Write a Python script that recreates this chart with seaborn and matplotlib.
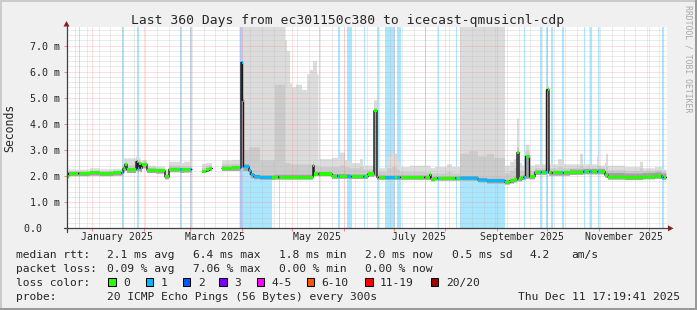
import numpy as np
import pandas as pd
import matplotlib
matplotlib.use("Agg")
import matplotlib.pyplot as plt
import seaborn as sns
from matplotlib.lines import Line2D
from matplotlib.patches import Rectangle, Polygon
from matplotlib.colors import to_rgb

# ---------------- data ----------------
START = pd.Timestamp("2024-12-16 17:19:41")
END = pd.Timestamp("2025-12-11 17:19:41")
SPAN_DAYS = 360

nan = np.nan
# step segments: start day (from START) and values held until next start
seg_day = [0.0, 1.2, 14.1, 20.1, 27.9, 33.9, 35.1, 36.3, 41.7, 42.6,
           43.5, 44.4, 45.3, 48.3, 53.7, 59.1, 61.5, 68.1, 70.5, 75.3,
           81.3, 83.7, 85.5, 87.3, 93.3, 99.3, 104.7, 105.6, 106.2, 109.5,
           110.7, 112.5, 116.1, 125.1, 131.1, 132.3, 134.1, 135.3, 137.7, 141.3,
           144.3, 146.1, 147.9, 148.5, 150.3, 151.2, 159.3, 164.1, 167.1, 170.1,
           176.1, 177.9, 180.9, 184.5, 186.3, 192.3, 195.3, 198.3, 200.1, 206.1,
           218.1, 218.7, 221.1, 228.3, 231.3, 236.1, 241.5, 246.9, 252.3, 256.5,
           263.1, 266.1, 268.5, 270.3, 271.5, 273.3, 275.4, 277.8, 281.1, 288.0,
           289.5, 294.9, 297.9, 302.1, 308.1, 309.9, 318.3, 319.5, 323.1, 323.7,
           324.9, 335.1, 344.1, 345.9, 353.1, 357.3]

median_ms = [2.00, 2.10, 2.12, 2.10, 2.12, 2.30, 2.45, 2.25, 2.55, 2.30,
             2.50, 2.30, 2.45, 2.23, 2.20, 1.97, 2.26, 2.24, 2.25, nan,
             2.18, 2.25, 2.30, nan, 2.30, 2.32, 6.35, 4.90, 2.36, 2.20,
             2.05, 1.97, 1.95, 1.96, 1.96, 1.96, 1.96, 1.96, 1.96, 1.96,
             1.96, 1.96, 2.40, 2.08, 2.08, 2.08, 2.00, 2.00, 2.00, 1.98,
             1.98, 1.98, 2.08, 4.50, 1.95, 1.95, 1.95, 1.95, 1.95, 1.95,
             2.05, 1.88, 1.92, 1.92, 1.92, 1.92, 1.92, 1.85, 1.82, 1.82,
             1.76, 1.82, 1.86, 2.90, 1.90, 1.95, 2.75, 1.98, 2.15, 5.30,
             2.12, 2.12, 2.12, 2.15, 2.15, 2.17, 2.17, 2.17, 2.04, 2.04,
             1.96, 1.94, 1.94, 1.97, 2.00, 1.95]

smoke_lo = [1.92, 2.00, 2.02, 2.00, 2.02, 2.14, 2.20, 2.12, 2.20, 2.15,
            2.20, 2.15, 2.30, 2.12, 2.10, 1.88, 2.15, 2.12, 2.14, nan,
            2.10, 2.15, 2.20, nan, 2.20, 2.20, 2.30, 2.30, 2.20, 2.05,
            1.92, 1.88, 1.86, 1.87, 1.87, 1.87, 1.87, 1.87, 1.87, 1.87,
            1.87, 1.87, 1.95, 2.00, 2.00, 2.00, 1.90, 1.90, 1.90, 1.89,
            1.89, 1.89, 1.98, 2.00, 1.86, 1.86, 1.86, 1.86, 1.86, 1.86,
            1.90, 1.80, 1.83, 1.83, 1.83, 1.83, 1.83, 1.76, 1.72, 1.72,
            1.68, 1.72, 1.76, 1.80, 1.80, 1.85, 1.90, 1.88, 2.05, 2.10,
            2.02, 2.02, 2.02, 2.05, 2.05, 2.07, 2.07, 2.07, 1.95, 1.95,
            1.87, 1.85, 1.85, 1.88, 1.90, 1.86]

smoke_core = [2.06, 2.15, 2.17, 2.15, 2.17, 2.36, 2.50, 2.31, 2.60, 2.36,
              2.55, 2.36, 2.50, 2.29, 2.26, 2.03, 2.32, 2.30, 2.31, nan,
              2.24, 2.31, 2.36, nan, 2.37, 2.39, 6.40, 4.95, 2.45, 2.28,
              2.12, 2.05, 2.03, 2.05, 2.05, 2.05, 2.05, 2.05, 2.05, 2.05,
              2.05, 2.05, 2.45, 2.15, 2.15, 2.15, 2.08, 2.08, 2.08, 2.06,
              2.06, 2.06, 2.15, 4.55, 2.02, 2.02, 2.02, 2.02, 2.02, 2.02,
              2.10, 1.95, 1.98, 1.98, 1.98, 2.00, 2.00, 1.93, 1.90, 1.90,
              1.85, 1.90, 1.94, 2.95, 1.97, 2.02, 2.80, 2.05, 2.22, 5.35,
              2.20, 2.20, 2.20, 2.25, 2.25, 2.27, 2.27, 2.27, 2.14, 2.14,
              2.12, 2.10, 2.10, 2.12, 2.14, 2.10]

smoke_mid = [2.09, 2.19, 2.21, 2.19, 2.21, 2.45, 2.55, 2.40, 2.65, 2.45,
             2.60, 2.42, 2.55, 2.33, 2.30, 2.10, 2.40, 2.38, 2.38, nan,
             2.30, 2.38, 2.42, nan, 2.45, 2.47, 7.71, 5.10, 3.00, 3.10,
             3.10, 3.10, 2.60, 5.50, 2.50, 2.50, 2.45, 2.45, 2.45, 2.45,
             2.45, 2.45, 2.55, 2.40, 2.40, 2.35, 2.35, 2.40, 2.35, 2.30,
             2.35, 2.25, 2.25, 4.60, 2.15, 2.30, 2.35, 2.25, 2.15, 2.15,
             2.20, 2.10, 2.10, 2.15, 2.10, 2.85, 2.95, 2.75, 2.85, 2.70,
             2.10, 2.20, 2.30, 3.10, 2.20, 2.20, 2.95, 2.20, 2.30, 5.40,
             2.30, 2.35, 2.30, 2.32, 2.40, 2.32, 2.40, 2.32, 2.25, 2.35,
             2.22, 2.20, 2.30, 2.20, 2.22, 2.18]

smoke_hi = [2.13, 2.25, 2.30, 2.26, 2.28, 2.68, 2.68, 2.68, 2.75, 2.65,
            2.70, 2.55, 2.62, 2.40, 2.36, 2.25, 2.55, 2.50, 2.55, nan,
            2.45, 2.50, 2.50, nan, 2.60, 2.62, 7.71, 7.71, 7.71, 7.71,
            7.71, 7.71, 7.71, 7.71, 7.20, 6.80, 5.55, 5.40, 5.50, 5.30,
            5.90, 6.07, 6.40, 6.40, 5.90, 2.65, 2.70, 2.90, 2.60, 2.50,
            2.65, 2.40, 2.40, 4.90, 2.30, 2.75, 2.87, 2.60, 2.35, 2.40,
            2.35, 2.30, 2.35, 2.45, 2.35, 7.71, 7.71, 7.71, 7.71, 7.71,
            2.40, 2.55, 2.65, 4.20, 2.50, 2.40, 3.20, 2.40, 2.45, 5.45,
            2.45, 2.65, 2.45, 2.45, 2.85, 2.45, 2.75, 2.40, 2.50, 2.85,
            2.40, 2.35, 2.55, 2.30, 2.35, 2.25]

# packet-loss periods (start day, end day, loss level)
loss_start = [7.2, 33.0, 42.0, 68.1, 74.1, 104.1, 105.0, 127.2, 151.2, 162.6,
              168.3, 178.2, 186.3, 191.1, 198.3, 214.8, 222.6, 233.4, 236.1, 274.2,
              284.1, 287.7, 290.7, 297.3, 310.2, 313.8, 318.6, 357.0]
loss_end = [8.1, 34.5, 43.5, 69.3, 75.0, 105.0, 123.3, 128.1, 152.1, 164.1,
            171.0, 179.1, 187.2, 197.1, 200.4, 215.7, 223.5, 234.3, 263.1, 275.1,
            285.0, 288.6, 291.6, 298.2, 311.1, 315.3, 319.5, 358.2]
loss_level = [1, 1, 1, 1, 1, 2, 1, 1, 1, 1,
              1, 1, 1, 1, 1, 1, 1, 1, 1, 1,
              1, 1, 1, 1, 1, 1, 1, 1]

loss_names = ["0", "1", "2", "3", "4-5", "6-10", "11-19", "20/20"]
loss_colors = ["#26ff00", "#00b8ff", "#0059ff", "#7e00ff", "#ff00ff", "#ff5500", "#ff0000", "#a10000"]

y_ticks = [0, 1, 2, 3, 4, 5, 6, 7]
y_tick_labels = ["0.0   ", "1.0 m", "2.0 m", "3.0 m", "4.0 m", "5.0 m", "6.0 m", "7.0 m"]
month_label_dates = ["2025-01-16", "2025-03-16", "2025-05-16", "2025-07-16", "2025-09-16", "2025-11-16"]
month_labels = ["January 2025", "March 2025", "May 2025", "July 2025", "September 2025", "November 2025"]

title = "Last 360 Days from ec301150c380 to icecast-qmusicnl-cdp"
row_rtt = ["median rtt:", "2.1 ms avg", "6.4 ms max", "1.8 ms min", "2.0 ms now", "0.5 ms sd", "4.2", "am/s"]
row_loss = ["packet loss:", "0.09 % avg", "7.06 % max", "0.00 % min", "0.00 % now"]
probe_text = "20 ICMP Echo Pings (56 Bytes) every 300s"
stamp_text = "Thu Dec 11 17:19:41 2025"

# ---------------- style ----------------
sns.set_style("white")
plt.rcParams["font.family"] = ["DejaVu Sans Mono"]
MONO = "DejaVu Sans Mono"

W, H, DPI = 697, 310, 100
fig = plt.figure(figsize=(W / DPI, H / DPI), dpi=DPI, facecolor="#f0f0f0")

X0, X1 = 66.5, 666.5     # plot area in pixels
YB, YT = 228.3, 27.0
YMAX = 7.71


def fx(x):
    return x / W


def fy(y):
    return 1 - y / H


ax = fig.add_axes([fx(X0), fy(YB), (X1 - X0) / W, (YB - YT) / H])
ax.set_facecolor("white")
ax.set_xlim(0, SPAN_DAYS)
ax.set_ylim(0, YMAX)
for s in ax.spines.values():
    s.set_visible(False)

# fine grid, step-held segment values
dt = 0.1
t = np.arange(0, SPAN_DAYS, dt)
idx = np.searchsorted(np.asarray(seg_day), t, side="right") - 1
med = np.asarray(median_ms)[idx]
lo = np.asarray(smoke_lo)[idx]
core = np.asarray(smoke_core)[idx]
mid = np.asarray(smoke_mid)[idx]
hi = np.asarray(smoke_hi)[idx]

lvl = np.zeros(t.shape, dtype=int)
for s, e, l in zip(loss_start, loss_end, loss_level):
    lvl[(t >= s) & (t < e)] = l

# loss background bars
for s, e, l in zip(loss_start, loss_end, loss_level):
    r, g, b = to_rgb(loss_colors[l])
    a = 0.34
    ax.axvspan(s, e, color=(1 - a + a * r, 1 - a + a * g, 1 - a + a * b), lw=0, zorder=1)

# smoke
ax.fill_between(t, lo, hi, step="post", color="#dcdcdc", lw=0, zorder=2)
ax.fill_between(t, lo, mid, step="post", color="#cbcbcb", lw=0, zorder=3)
ax.fill_between(t, lo, core, step="post", color="#a2a2a2", lw=0, zorder=4)

# grid
minor_c = (0.72, 0.72, 0.72, 0.55)
major_c = (1.0, 0.5, 0.5, 0.5)
dash = (0, (1, 1))
for i in range(1, 39):
    yv = i * 0.2
    if i % 5:
        ax.axhline(yv, color=minor_c, lw=0.72, ls=dash, zorder=5)
for yv in y_ticks[1:]:
    ax.axhline(yv, color=major_c, lw=0.72, ls=dash, zorder=5)
weeks = pd.date_range("2024-12-22", END, freq="7D")
week_days = [(d - START) / pd.Timedelta(days=1) for d in weeks]
for d in week_days:
    ax.axvline(d, color=minor_c, lw=0.72, ls=dash, zorder=5)
months = pd.date_range("2025-01-01", END, freq="MS")
month_days = [(d - START) / pd.Timedelta(days=1) for d in months]
for d in month_days:
    ax.axvline(d, color=major_c, lw=0.72, ls=dash, zorder=5)

# median line (dark) via seaborn
df = pd.DataFrame({"day": t, "rtt": med})
df["run"] = df["rtt"].isna().cumsum()
df = df.dropna()
sns.lineplot(data=df, x="day", y="rtt", units="run", estimator=None, sort=False,
             drawstyle="steps-post", color="#1a1a1a", lw=1.0, ax=ax, legend=False, zorder=6)

# median colored by loss
half = 0.058
valid = ~np.isnan(med)
for k in sorted(set([0] + loss_level)):
    m = (lvl == k) & valid
    ax.fill_between(t, med - half, med + half, where=m, step="post",
                    color=loss_colors[k], lw=0, zorder=7)

ax.set_xlabel("")
ax.set_ylabel("")

# ticks
ax.set_yticks(y_ticks)
ax.set_yticklabels(y_tick_labels, fontsize=7.2, family=MONO)
ax.tick_params(axis="y", length=2.0, width=0.72, color="#ff8080", pad=2.6, direction="out", left=True)
label_days = [(pd.Timestamp(d) - START) / pd.Timedelta(days=1) for d in month_label_dates]
ax.set_xticks(label_days)
ax.set_xticklabels(month_labels, fontsize=7.1, family=MONO)
ax.set_xticks(month_days, minor=True)
ax.tick_params(axis="x", which="major", length=0, pad=2.9, bottom=True)
ax.tick_params(axis="x", which="minor", length=2.0, width=0.72, color="#ff8080", bottom=True)

# axis lines and arrows (in figure pixels)
axis_c = "#404040"
arrow_c = "#8b1e1e"
fig.add_artist(Line2D([fx(X0), fx(X0)], [fy(231.5), fy(25.5)], color=axis_c, lw=0.9))
fig.add_artist(Line2D([fx(63.5), fx(668.5)], [fy(YB), fy(YB)], color=axis_c, lw=0.9))
fig.add_artist(Polygon([[fx(X0 - 3), fy(26.5)], [fx(X0 + 3), fy(26.5)], [fx(X0), fy(21.0)]],
                       closed=True, color=arrow_c, lw=0))
fig.add_artist(Polygon([[fx(668), fy(YB - 3)], [fx(668), fy(YB + 3)], [fx(673.5), fy(YB)]],
                       closed=True, color=arrow_c, lw=0))

# frame shading
fig.add_artist(Line2D([0, 1], [fy(0.75), fy(0.75)], color="#cbcbcb", lw=1.44))
fig.add_artist(Line2D([fx(0.75), fx(0.75)], [0, 1], color="#cbcbcb", lw=1.44))
fig.add_artist(Line2D([0, 1], [fy(309.25), fy(309.25)], color="#999999", lw=1.44))
fig.add_artist(Line2D([fx(696.25), fx(696.25)], [0, 1], color="#999999", lw=1.44))

# title and side texts
fig.text(fx(347.5), fy(24), title, ha="center", va="baseline", fontsize=9.35, family=MONO)
fig.text(fx(10), fy(127.6), "Seconds", rotation=90, ha="center", va="center", fontsize=8.3, family=MONO)
fig.text(fx(688), fy(5), "RRDTOOL / TOBI OETIKER", rotation=270, ha="center", va="top",
         fontsize=5.9, family=MONO, color="#a8a8a8")

# legend rows
LF = 8.15
rtt_x = [16, 107.3, 192.7, 279.3, 365, 451.7, 530, 571.7]
for txt, x in zip(row_rtt, rtt_x):
    fig.text(fx(x), fy(258.3), txt, ha="left", va="baseline", fontsize=LF, family=MONO)
loss_x = [16, 107.3, 192.7, 279.3, 365]
for txt, x in zip(row_loss, loss_x):
    fig.text(fx(x), fy(272.3), txt, ha="left", va="baseline", fontsize=LF, family=MONO)
fig.text(fx(16), fy(286), "loss color:", ha="left", va="baseline", fontsize=LF, family=MONO)
box_x = [108.3, 145.7, 182.7, 219.3, 256.7, 306.7, 365, 430.7]
for name, col, bx in zip(loss_names, loss_colors, box_x):
    fig.add_artist(Rectangle((fx(bx), fy(286)), 7.7 / W, 7.7 / H, transform=fig.transFigure,
                             facecolor=col, edgecolor="black", lw=0.75))
    fig.text(fx(bx + 15), fy(286), name, ha="left", va="baseline", fontsize=LF, family=MONO)
fig.text(fx(16), fy(300), "probe:", ha="left", va="baseline", fontsize=LF, family=MONO)
fig.text(fx(107.3), fy(300), probe_text, ha="left", va="baseline", fontsize=LF, family=MONO)
fig.text(fx(680.5), fy(300), stamp_text, ha="right", va="baseline", fontsize=LF, family=MONO)

fig.savefig("out.png", dpi=DPI, facecolor=fig.get_facecolor())
